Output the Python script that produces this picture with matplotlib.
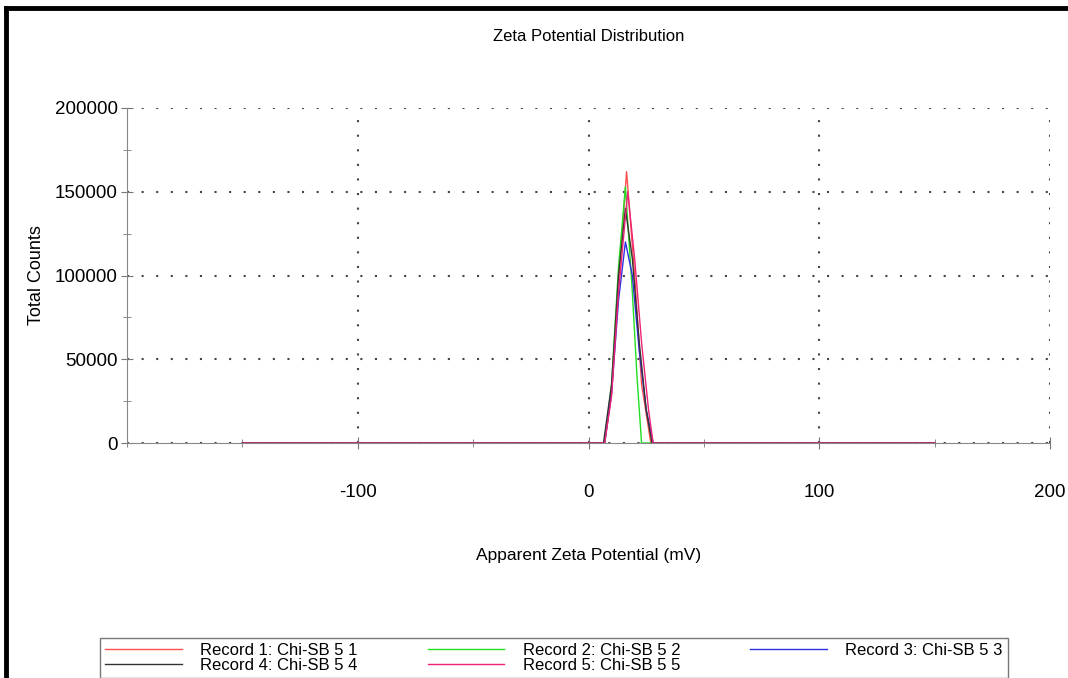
import matplotlib
matplotlib.use("Agg")
import matplotlib.pyplot as plt
from matplotlib.lines import Line2D
from matplotlib.ticker import MultipleLocator

plt.rcParams['font.family'] = ['Liberation Sans', 'DejaVu Sans']
plt.rcParams['axes.unicode_minus'] = False

# zeta potential (mV) and total counts for each record
zeta1 = [-150, 7, 10, 13, 16.5, 20, 23, 27, 150]
counts1 = [0, 0, 30000, 95000, 162000, 100000, 35000, 0, 0]
zeta2 = [-150, 7, 10, 13, 16, 19, 21, 23, 150]
counts2 = [0, 0, 35000, 105000, 153000, 90000, 40000, 0, 0]
zeta3 = [-150, 7, 10, 13, 16, 19, 22, 25, 28, 150]
counts3 = [0, 0, 30000, 85000, 120000, 100000, 55000, 20000, 0, 0]
zeta4 = [-150, 6.5, 10, 13, 16, 19, 22, 25, 27.5, 150]
counts4 = [0, 0, 35000, 100000, 140000, 110000, 60000, 20000, 0, 0]
zeta5 = [-150, 7, 10, 13, 17, 20, 23, 26, 28, 150]
counts5 = [0, 0, 28000, 90000, 150000, 110000, 60000, 20000, 0, 0]

labels = ['Record 1: Chi-SB 5 1', 'Record 2: Chi-SB 5 2', 'Record 3: Chi-SB 5 3',
          'Record 4: Chi-SB 5 4', 'Record 5: Chi-SB 5 5']
colors = ['#ff5050', '#22dd22', '#3030e0', '#333333', '#ee2277']

fig = plt.figure(figsize=(10.68, 6.78), dpi=100)
ax = fig.add_axes([127/1068, 1 - 443/678, (1050 - 127)/1068, (443 - 108)/678])

series = [(zeta1, counts1), (zeta2, counts2), (zeta3, counts3), (zeta4, counts4), (zeta5, counts5)]
handles = []
for (x, y), c, lab in zip(series, colors, labels):
    h, = ax.plot(x, y, color=c, lw=1.0, label=lab)
    handles.append(h)

ax.set_xlim(-200, 200)
ax.set_ylim(0, 200000)
ax.xaxis.set_major_locator(MultipleLocator(100))
ax.xaxis.set_minor_locator(MultipleLocator(50))
ax.yaxis.set_major_locator(MultipleLocator(50000))
ax.yaxis.set_minor_locator(MultipleLocator(25000))
ax.set_xticks([-100, 0, 100, 200])

ax.grid(True, which='major', color='#444444', linestyle=(0, (1, 6)), lw=1.5)
for s in ['top', 'right']:
    ax.spines[s].set_visible(False)
for s in ['left', 'bottom']:
    ax.spines[s].set_color('#888888')
ax.tick_params(which='major', direction='inout', length=9, color='#777777', labelsize=13.5, pad=2)
ax.tick_params(which='minor', direction='inout', length=6, color='#777777')
ax.tick_params(axis='x', pad=25)

ax.set_title('Zeta Potential Distribution', fontsize=12, pad=48)
ax.set_xlabel('Apparent Zeta Potential (mV)', fontsize=12.5, labelpad=34)
ax.set_ylabel('Total Counts', fontsize=13, labelpad=7)

order = [0, 3, 1, 4, 2]
fig.legend([handles[i] for i in order], [labels[i] for i in order], ncol=3,
           loc='lower left', bbox_to_anchor=(92/1068, -0.012), fontsize=12,
           handlelength=4.6, handletextpad=1.1, columnspacing=4.2,
           labelspacing=0.0, borderpad=0.3, fancybox=False, edgecolor='#777777',
           framealpha=1)

# outer frame of the screenshot
fig.add_artist(Line2D([6/1068, 6/1068], [0, 1 - 8/678], color='black', lw=3.5))
fig.add_artist(Line2D([6/1068, 1], [1 - 8/678, 1 - 8/678], color='black', lw=3.5))

fig.savefig('out.png', dpi=100)
